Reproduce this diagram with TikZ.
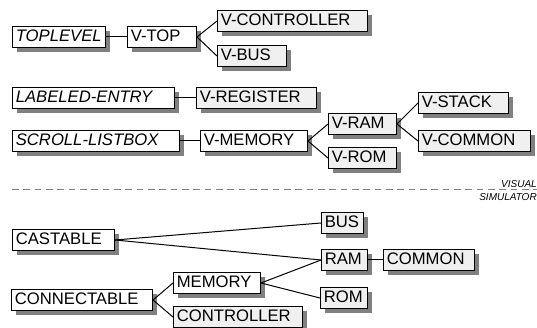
\documentclass[tikz,border=0pt]{standalone}
\usepackage{fontspec}
\setmainfont{Liberation Sans}
\usetikzlibrary{shadows}
\definecolor{leafgray}{RGB}{240,240,240}
\definecolor{shadowgray}{RGB}{128,128,128}

\begin{document}
\begin{tikzpicture}[x=0.75pt, y=-0.75pt,
  cls/.style={draw, line width=0.75pt, fill=white, anchor=west, text width=#1, align=left,
    inner xsep=2.5pt, inner ysep=0pt, minimum height=15.5pt, text height=9.5pt, text depth=2.5pt,
    font=\fontsize{12.5}{15}\selectfont,
    drop shadow={shadow xshift=3.2pt, shadow yshift=-3.2pt, fill=shadowgray, opacity=1}},
  leaf/.style={cls=#1, fill=leafgray},
  abstract/.style={cls=#1, font=\fontsize{12.5}{15}\selectfont\itshape},
  link/.style={line width=0.75pt}]
  \useasboundingbox (0,0) rectangle (537,328);

  % visual classes
  \node[abstract=64.75pt] (toplevel) at (12,37) {TOPLEVEL};
  \node[cls=46.75pt] (vtop) at (127,37) {V-TOP};
  \node[leaf=107.5pt] (vcontroller) at (217,21) {V-CONTROLLER};
  \node[leaf=46.75pt] (vbus) at (217,56) {V-BUS};

  \node[abstract=116.5pt] (labeledentry) at (12,98) {LABELED-ENTRY};
  \node[leaf=85pt] (vregister) at (196,98) {V-REGISTER};

  \node[abstract=120.25pt] (scrolllistbox) at (12,141) {SCROLL-LISTBOX};
  \node[cls=75.25pt] (vmemory) at (200,141) {V-MEMORY};
  \node[leaf=46pt] (vram) at (328,124) {V-RAM};
  \node[leaf=46pt] (vrom) at (328,158) {V-ROM};
  \node[leaf=62.5pt] (vstack) at (418,103) {V-STACK};
  \node[leaf=79pt] (vcommon) at (418,141) {V-COMMON};

  \draw[link] (toplevel.east) -- (vtop.west);
  \draw[link] (vtop.east) -- (vcontroller.west);
  \draw[link] (vtop.east) -- (vbus.west);
  \draw[link] (labeledentry.east) -- (vregister.west);
  \draw[link] (scrolllistbox.east) -- (vmemory.west);
  \draw[link] (vmemory.east) -- (vram.west);
  \draw[link] (vmemory.east) -- (vrom.west);
  \draw[link] (vram.east) -- (vstack.west);
  \draw[link] (vram.east) -- (vcommon.west);

  % separator
  \coordinate (sepL) at (12,190);
  \coordinate (sepR) at (537,190);
  \draw[shadowgray, line width=0.75pt, dash pattern=on 5pt off 3.5pt] (sepL) -- (sepR);
  \node[anchor=south east, inner sep=0pt, font=\fontsize{7.5}{9}\selectfont\itshape] (visual) at (537,188) {VISUAL};
  \node[anchor=north east, inner sep=0pt, font=\fontsize{7.5}{9}\selectfont\itshape] (simulator) at (537,193) {SIMULATOR};

  % simulator classes
  \node[cls=71.5pt] (castable) at (12,240) {CASTABLE};
  \node[leaf=26.5pt] (bus) at (321,223) {BUS};
  \node[leaf=29.5pt] (ram) at (321,260) {RAM};
  \node[leaf=63.25pt] (common) at (383,260) {COMMON};
  \node[leaf=30.25pt] (rom) at (320,298) {ROM};
  \node[cls=60.25pt] (memory) at (173,283) {MEMORY};
  \node[cls=100.75pt] (connectable) at (11,300) {CONNECTABLE};
  \node[leaf=91.75pt] (controller) at (173,317) {CONTROLLER};

  \draw[link] (castable.east) -- (bus.west);
  \draw[link] (castable.east) -- (ram.west);
  \draw[link] (ram.east) -- (common.west);
  \draw[link] (memory.east) -- (ram.west);
  \draw[link] (memory.east) -- (rom.west);
  \draw[link] (connectable.east) -- (memory.west);
  \draw[link] (connectable.east) -- (controller.west);
\end{tikzpicture}
\end{document}
